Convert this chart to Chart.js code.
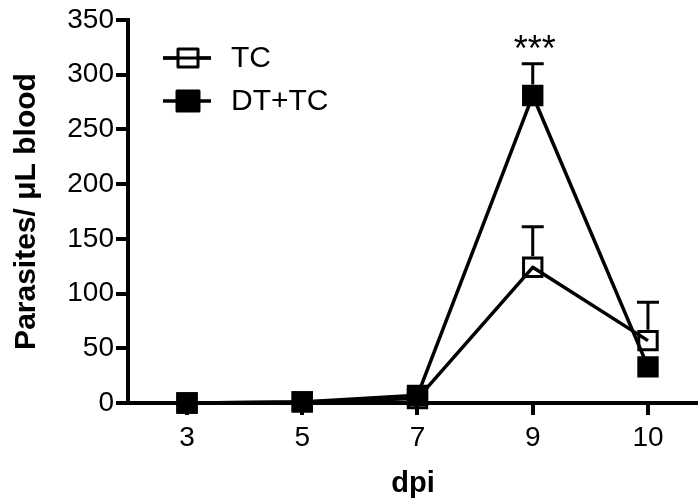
<!DOCTYPE html>
<html lang="en">
<head>
  <meta charset="UTF-8" />
  <title>Parasites per uL blood</title>
  <style>
    html, body { margin: 0; padding: 0; background: #fff; }
    #wrap { width: 698px; height: 503px; }
  </style>
</head>
<body>
  <div id="wrap"><canvas id="chart" width="698" height="503"></canvas></div>

  <script src="https://cdn.jsdelivr.net/npm/chart.js"></script>
  <script>
    // days post infection (categories, equally spaced)
    const days = ['3', '5', '7', '9', '10'];
    const tcMean = [0, 1, 4, 124, 57];
    const tcErr  = [0, 0, 0, 37, 35];
    const dtMean = [0, 1, 7, 281, 33];
    const dtErr  = [0, 0, 0, 29, 0];
    const marks  = ['', '', '', '***', ''];
    const yMax = 350, yStep = 50;

    const FONT = '"Liberation Sans", Arial, sans-serif';
    const BOX = 10; // half size of the square markers

    const toPts = arr => arr.map((v, i) => ({ x: i, y: v }));

    // error bars (upper only), significance stars, and the legend
    const extras = {
      id: 'extras',
      afterDatasetsDraw(chart) {
        const ctx = chart.ctx;
        const xs = chart.scales.x, ys = chart.scales.y;
        ctx.save();
        ctx.strokeStyle = '#000';
        ctx.lineWidth = 3;
        chart.data.datasets.forEach(ds => {
          ds.err.forEach((e, i) => {
            if (!e) return;
            const x = xs.getPixelForValue(i);
            const y0 = ys.getPixelForValue(ds.means[i]) - BOX - 1;
            const y1 = ys.getPixelForValue(ds.means[i] + e);
            ctx.beginPath();
            ctx.moveTo(x, y0); ctx.lineTo(x, y1);
            ctx.moveTo(x - 11, y1); ctx.lineTo(x + 11, y1);
            ctx.stroke();
          });
        });
        ctx.fillStyle = '#000';
        ctx.font = '36px ' + FONT;
        ctx.textAlign = 'center';
        ctx.textBaseline = 'alphabetic';
        marks.forEach((m, i) => {
          if (m) ctx.fillText(m, xs.getPixelForValue(i) + 2, 61);
        });

        // legend
        const rows = [58, 101];
        chart.data.datasets.forEach((ds, k) => {
          const y = rows[k];
          ctx.lineWidth = 3.5;
          ctx.beginPath();
          ctx.moveTo(163, y); ctx.lineTo(211, y);
          ctx.stroke();
          ctx.lineWidth = 3;
          ctx.lineJoin = 'round';
          if (ds.filled) {
            ctx.fillRect(177, y - 10, 22, 20);
            ctx.strokeRect(177, y - 10, 22, 20);
          } else {
            ctx.fillStyle = '#fff';
            ctx.fillRect(178, y - 9, 20, 18);
            ctx.fillStyle = '#000';
            ctx.strokeRect(178, y - 9, 20, 18);
            ctx.beginPath();
            ctx.moveTo(163, y); ctx.lineTo(211, y);
            ctx.stroke();
          }
          ctx.font = '30px ' + FONT;
          ctx.textAlign = 'left';
          ctx.textBaseline = 'middle';
          ctx.fillText(ds.label, 231, y + 1);
        });
        ctx.restore();
      }
    };

    const axisGrid = {
      display: true,
      drawOnChartArea: false,
      drawTicks: true,
      tickLength: 12,
      lineWidth: 4,
      color: '#000'
    };

    new Chart(document.getElementById('chart'), {
      type: 'line',
      data: {
        datasets: [
          {
            label: 'TC',
            data: toPts(tcMean),
            means: tcMean,
            err: tcErr,
            filled: false,
            borderColor: '#000',
            borderWidth: 3.5,
            pointStyle: 'rect',
            pointRadius: 13,
            pointBorderWidth: 3,
            pointBackgroundColor: 'rgba(255,255,255,0)',
            pointBorderColor: '#000',
            clip: false
          },
          {
            label: 'DT+TC',
            data: toPts(dtMean),
            means: dtMean,
            err: dtErr,
            filled: true,
            borderColor: '#000',
            borderWidth: 3.5,
            pointStyle: 'rect',
            pointRadius: 13,
            pointBorderWidth: 3,
            pointBackgroundColor: '#000',
            pointBorderColor: '#000',
            clip: false
          }
        ]
      },
      options: {
        responsive: false,
        animation: false,
        devicePixelRatio: 1,
        layout: { autoPadding: false, padding: { top: 20, right: 0, left: 0, bottom: 0 } },
        elements: { line: { tension: 0, borderJoinStyle: 'round' } },
        plugins: { legend: { display: false }, tooltip: { enabled: false } },
        scales: {
          x: {
            type: 'linear',
            min: -0.512,
            max: 4.434,
            afterBuildTicks: s => { s.ticks = days.map((d, i) => ({ value: i })); },
            afterFit: s => { s.height = 100; s.paddingLeft = 0; s.paddingRight = 0; },
            ticks: {
              callback: v => days[v],
              color: '#000',
              font: { family: FONT, size: 28 },
              padding: 6,
              maxRotation: 0
            },
            grid: axisGrid,
            border: { display: true, color: '#000', width: 4 },
            title: {
              display: true,
              text: 'dpi',
              color: '#000',
              font: { family: FONT, size: 29, weight: 'bold' },
              padding: { top: 0, bottom: 2 }
            }
          },
          y: {
            min: 0,
            max: yMax,
            afterFit: s => { s.width = 128; },
            ticks: {
              stepSize: yStep,
              color: '#000',
              font: { family: FONT, size: 28 },
              padding: 2
            },
            grid: axisGrid,
            border: { display: true, color: '#000', width: 4 },
            title: {
              display: true,
              text: 'Parasites/ μL blood',
              color: '#000',
              font: { family: FONT, size: 30, weight: 'bold' },
              padding: { top: 9, bottom: 0 }
            }
          }
        }
      },
      plugins: [extras]
    });
  </script>
</body>
</html>
